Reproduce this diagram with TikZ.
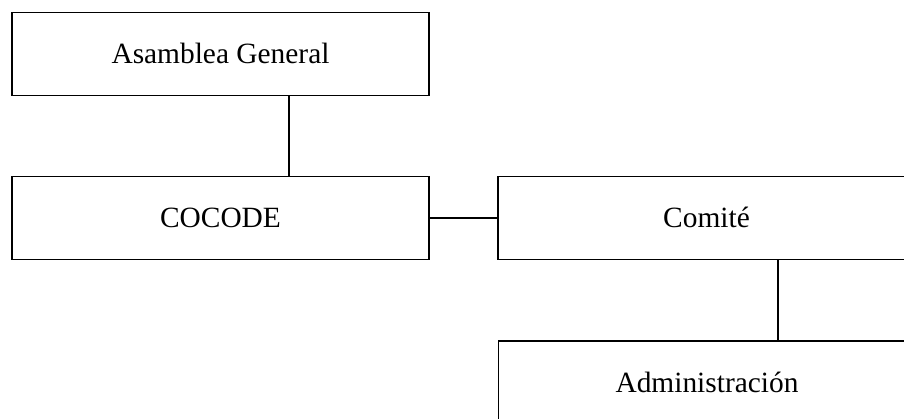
\documentclass[tikz,border=0pt]{standalone}
\usepackage{fontspec}
\setmainfont{Liberation Serif}
\begin{document}
\begin{tikzpicture}[x=1pt,y=-1pt,
  box/.style={draw, line width=1.5pt, minimum width=417pt, minimum height=83pt,
    inner sep=0pt, outer sep=0pt, anchor=north west,
    font=\fontsize{29.4}{34}\selectfont, text height=19.6pt, text depth=0pt},
  link/.style={line width=1.5pt}]
\useasboundingbox (0,0) rectangle (904,418);
\clip (0,0) rectangle (904,418);
\fill[white] (0,0) rectangle (904,418);
\node[box] (asam) at (12,12.5) {Asamblea General};
\node[box] (cocode) at (12,176.5) {COCODE};
\node[box] (comite) at (498,176.5) {Comité};
\node[box] (admin) at (498.5,341) {Administración};
\coordinate (xa) at (289,0);
\coordinate (xb) at (778,0);
\draw[link] (asam.south -| xa) -- (cocode.north -| xa);
\draw[link] (cocode.east) -- (comite.west);
\draw[link] (comite.south -| xb) -- (admin.north -| xb);
\end{tikzpicture}
\end{document}
